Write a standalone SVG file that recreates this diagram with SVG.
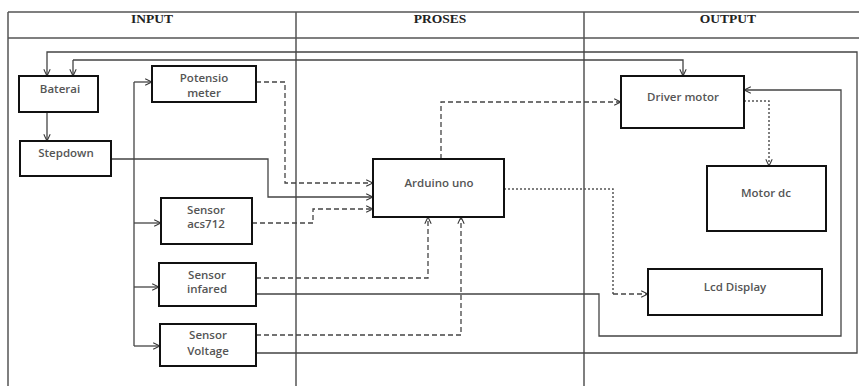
<svg xmlns="http://www.w3.org/2000/svg" width="859" height="386" viewBox="0 0 859 386">
<defs>
<marker id="ah" viewBox="0 0 10 10" refX="9.5" refY="5" markerWidth="8" markerHeight="8" orient="auto" markerUnits="userSpaceOnUse">
<path d="M1,1 L9.5,5 L1,9" fill="none" stroke="#333" stroke-width="1.3"/>
</marker>
</defs>
<style>
.frame{stroke:#555;stroke-width:1.5;fill:none}
.hdr{font-family:"Liberation Serif",serif;font-weight:bold;font-size:13.5px;fill:#222;text-anchor:middle}
.box{fill:#fff;stroke:#111;stroke-width:2}
.lbl{font-family:"Open Sans","Liberation Sans",sans-serif;font-size:11.5px;font-weight:600;fill:#555;text-anchor:middle}
.solid{fill:none;stroke:#444;stroke-width:1.3}
.dash{fill:none;stroke:#444;stroke-width:1.3;stroke-dasharray:5 3}
.dot{fill:none;stroke:#555;stroke-width:1.5;stroke-dasharray:2 2}
</style>
<rect width="859" height="386" fill="#fff"/>
<g id="frame">
<path class="frame" d="M8,12 H859 M8,38 H859 M8,12 V386 M296,12 V386 M584,12 V386"/>
<text class="hdr" x="152" y="23">INPUT</text>
<text class="hdr" x="440" y="23">PROSES</text>
<text class="hdr" x="728" y="23">OUTPUT</text>
</g>
<g id="connectors">
<path class="solid" d="M47,112 V141" marker-end="url(#ah)"/>
<path class="solid" d="M134,82 V346"/>
<path class="solid" d="M134,82 H152" marker-end="url(#ah)"/>
<path class="solid" d="M134,223 H161" marker-end="url(#ah)"/>
<path class="solid" d="M134,287 H159" marker-end="url(#ah)"/>
<path class="solid" d="M134,346 H160" marker-end="url(#ah)"/>
<path class="solid" d="M111,159 H268 V197 H373" marker-end="url(#ah)"/>
<path class="dash" d="M256,82 H285 V183 H373" marker-end="url(#ah)"/>
<path class="dash" d="M252,223 H313 V209 H373" marker-end="url(#ah)"/>
<path class="dash" d="M256,278 H428 V217" marker-end="url(#ah)"/>
<path class="dash" d="M256,335 H461 V217" marker-end="url(#ah)"/>
<path class="solid" d="M256,294 H599 V336 H841 V90 H744" marker-end="url(#ah)"/>
<path class="solid" d="M256,353 H857 V52 H47 V76" marker-end="url(#ah)"/>
<path class="solid" d="M73,60 H683 V76" marker-end="url(#ah)"/>
<path class="solid" d="M73,60 V76" marker-end="url(#ah)"/>
<path class="dash" d="M441,159 V102 H621" marker-end="url(#ah)"/>
<path class="dot" d="M744,101 H769 V166" marker-end="url(#ah)"/>
<path class="dot" d="M504,189 H613 V294"/>
<path class="dash" d="M613,294 H648" marker-end="url(#ah)"/>
</g>
<g id="baterai"><rect class="box" x="19" y="76" width="79" height="36"/><text class="lbl" x="60" y="93">Baterai</text></g>
<g id="stepdown"><rect class="box" x="20" y="141" width="91" height="35"/><text class="lbl" x="66" y="157">Stepdown</text></g>
<g id="potensio"><rect class="box" x="152" y="66" width="104" height="36"/><text class="lbl" x="204" y="82">Potensio</text><text class="lbl" x="204" y="97">meter</text></g>
<g id="acs712"><rect class="box" x="161" y="198" width="91" height="46"/><text class="lbl" x="206" y="214">Sensor</text><text class="lbl" x="206" y="228">acs712</text></g>
<g id="infared"><rect class="box" x="159" y="263" width="97" height="43"/><text class="lbl" x="207" y="279">Sensor</text><text class="lbl" x="207" y="293">infared</text></g>
<g id="voltage"><rect class="box" x="160" y="324" width="96" height="42"/><text class="lbl" x="208" y="339">Sensor</text><text class="lbl" x="208" y="355">Voltage</text></g>
<g id="arduino"><rect class="box" x="373" y="159" width="131" height="58"/><text class="lbl" x="439" y="187">Arduino uno</text></g>
<g id="driver"><rect class="box" x="621" y="76" width="123" height="52"/><text class="lbl" x="683" y="101">Driver motor</text></g>
<g id="motordc"><rect class="box" x="707" y="166" width="119" height="65"/><text class="lbl" x="766" y="197">Motor dc</text></g>
<g id="lcd"><rect class="box" x="648" y="269" width="174" height="46"/><text class="lbl" x="735" y="291">Lcd Display</text></g>
</svg>
